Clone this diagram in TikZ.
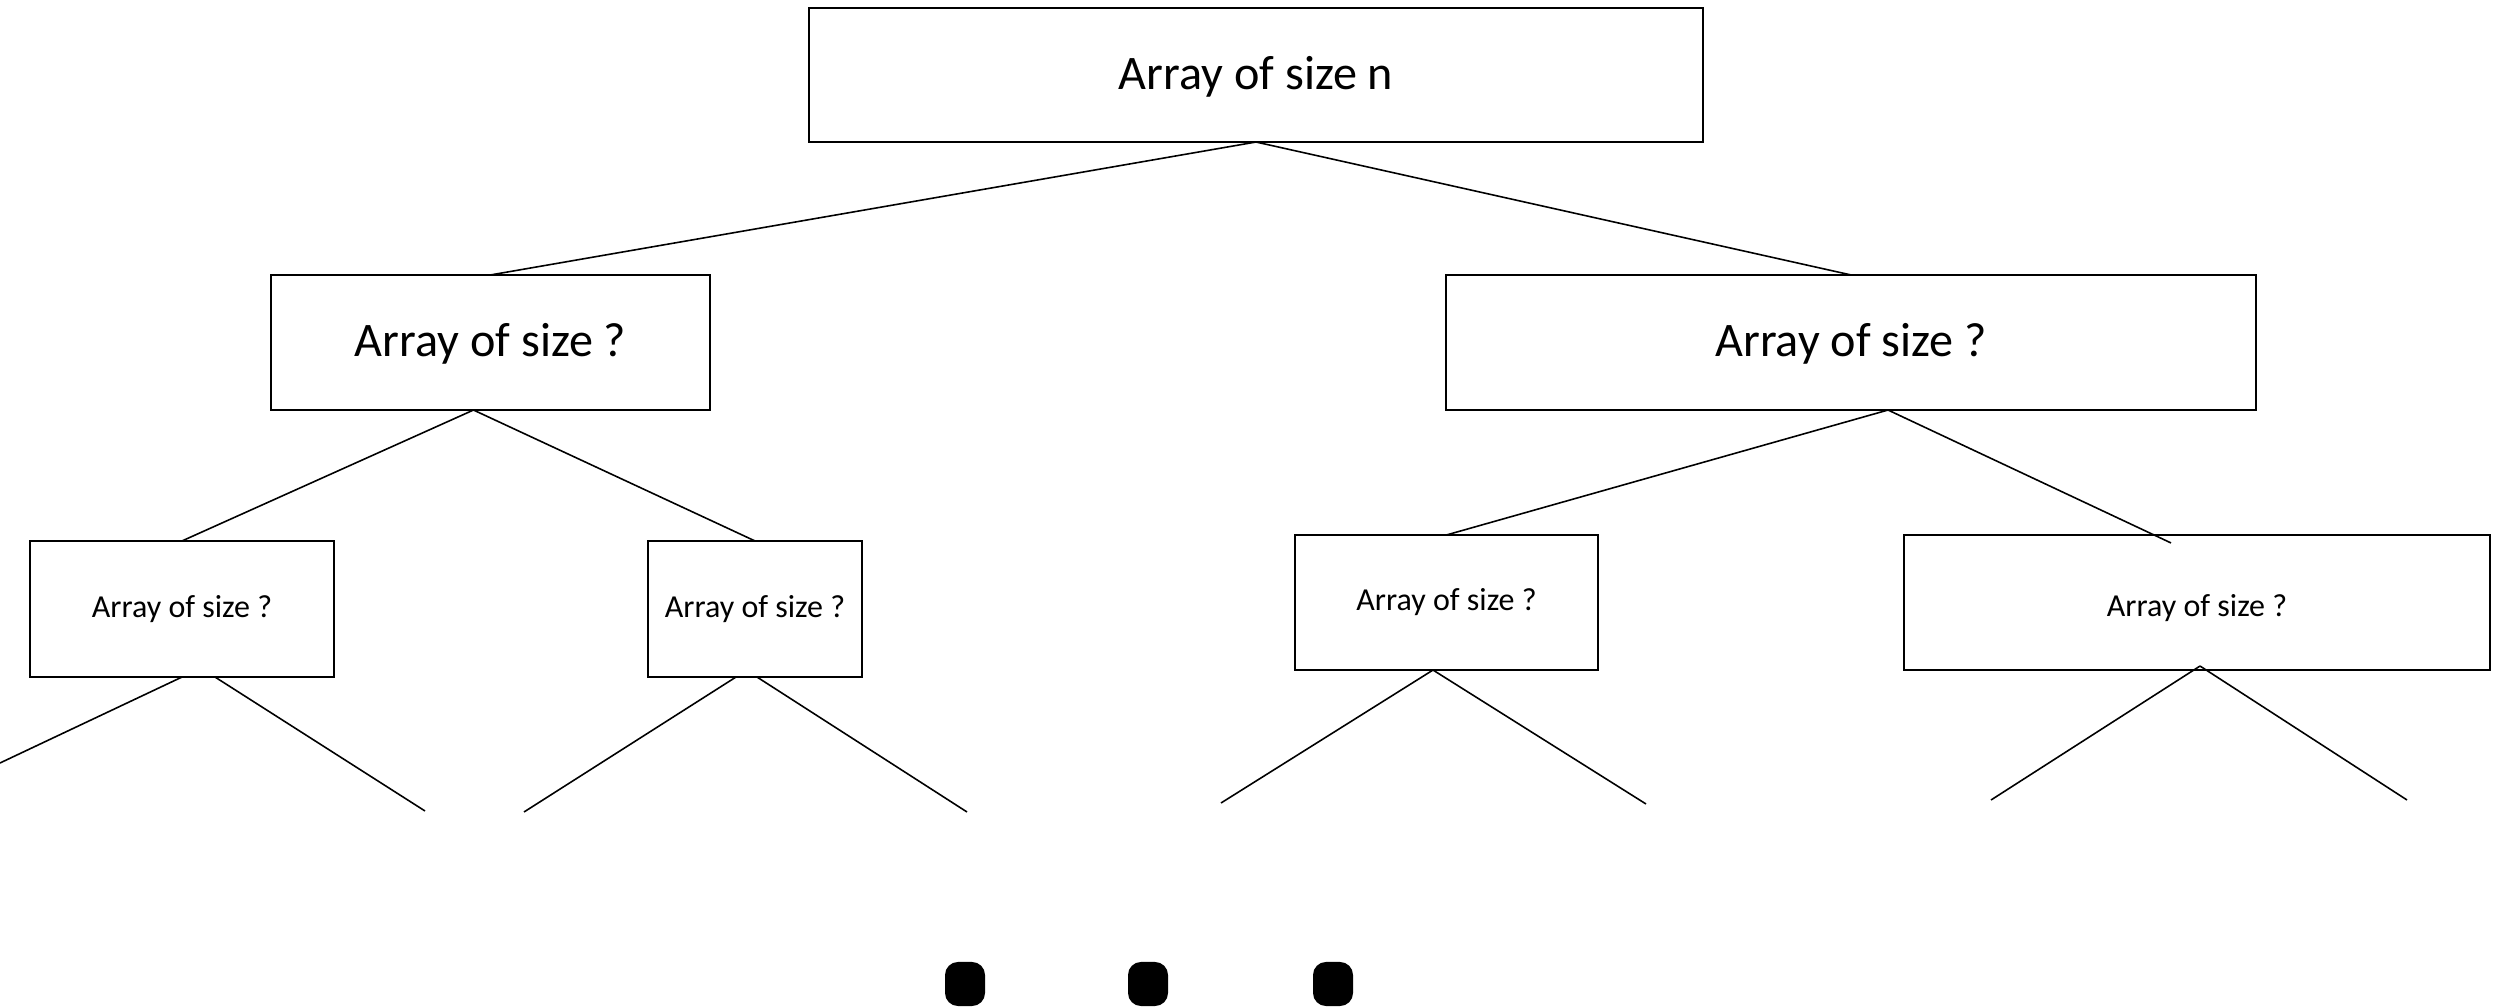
\documentclass[tikz,border=0pt]{standalone}
\usepackage{fontspec}
\setmainfont{Carlito}
\begin{document}
\begin{tikzpicture}[x=0.01cm,y=-0.01cm,
  box/.style={draw, line width=0.6pt, inner sep=0pt, outer sep=0pt, text depth=0.2em},
  link/.style={line width=0.45pt},
  bigtxt/.style={font=\fontsize{13.7}{16}\selectfont, text height=1.0em},
  smalltxt/.style={font=\fontsize{9.1}{11}\selectfont, text height=0.68em},
  dot/.style={fill=black, draw=none, rounded corners=0.13cm, minimum width=0.40cm, minimum height=0.44cm, inner sep=0pt}]
\useasboundingbox (0,0) rectangle (2503,1007);

% level 0
\node[box, bigtxt, minimum width=8.94cm, minimum height=1.34cm] (root) at (1256,75) {Array of size n};

% level 1
\node[box, bigtxt, minimum width=4.39cm, minimum height=1.35cm] (L) at (490.5,342.5) {Array of size ?};
\node[box, bigtxt, minimum width=8.10cm, minimum height=1.35cm] (R) at (1851,342.5) {Array of size ?};

% level 2
\node[box, smalltxt, minimum width=3.04cm, minimum height=1.36cm] (LL) at (182,609) {Array of size ?};
\node[box, smalltxt, minimum width=2.14cm, minimum height=1.36cm] (LR) at (755,609) {Array of size ?};
\node[box, smalltxt, minimum width=3.03cm, minimum height=1.35cm] (RL) at (1446.5,602.5) {Array of size ?};
\node[box, smalltxt, minimum width=5.86cm, minimum height=1.35cm, text height=0.99em] (RR) at (2197,602.5) {Array of size ?};

% edges between boxes
\draw[link] (root.south) -- (L.north);
\draw[link] (root.south) -- (R.north);
\draw[link] ([xshift=-0.17cm]L.south) -- (LL.north);
\draw[link] ([xshift=-0.17cm]L.south) -- (LR.north);
\draw[link] ([xshift=0.37cm]R.south) -- (RL.north);
\draw[link] ([xshift=0.37cm]R.south) -- ([xshift=-0.26cm,yshift=-0.08cm]RR.north);

% open ends of the next level
\coordinate (a1) at (0,763);
\coordinate (a2) at (425,811);
\coordinate (b1) at (524,812);
\coordinate (b2) at (967,812);
\coordinate (c1) at (1221,803);
\coordinate (c2) at (1646,804);
\coordinate (d1) at (1991,800);
\coordinate (d2) at (2407,800);
\draw[link] (LL.south) -- (a1);
\draw[link] ([xshift=0.33cm]LL.south) -- (a2);
\draw[link] ([xshift=-0.19cm]LR.south) -- (b1);
\draw[link] ([xshift=0.02cm]LR.south) -- (b2);
\draw[link] ([xshift=-0.135cm]RL.south) -- (c1);
\draw[link] ([xshift=-0.135cm]RL.south) -- (c2);
\draw[link] ([xshift=0.03cm,yshift=0.04cm]RR.south) -- (d1);
\draw[link] ([xshift=0.03cm,yshift=0.04cm]RR.south) -- (d2);

% ellipsis
\node[dot] (e1) at (965,984) {};
\node[dot] (e2) at (1148,984) {};
\node[dot] (e3) at (1333,984) {};
\end{tikzpicture}
\end{document}
